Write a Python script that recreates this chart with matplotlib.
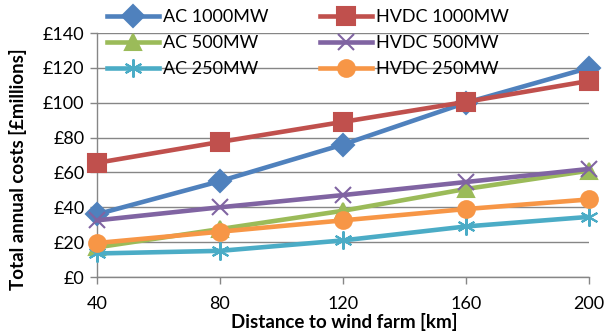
import matplotlib
matplotlib.use("Agg")
import matplotlib.pyplot as plt

plt.rcParams['font.family'] = ['Lato', 'DejaVu Sans']

distance = [40, 80, 120, 160, 200]
ac_1000 = [36, 55, 76, 100, 120]
hvdc_1000 = [65.5, 77.5, 89, 100.5, 112.5]
ac_500 = [17, 27.5, 38, 50.5, 61]
hvdc_500 = [32.5, 40, 47, 54.5, 62]
ac_250 = [13.5, 15, 21, 29, 34.5]
hvdc_250 = [19.5, 26, 32.5, 39, 44.5]
yticks = [0, 20, 40, 60, 80, 100, 120, 140]
ytick_labels = ['£0', '£20', '£40', '£60', '£80', '£100', '£120', '£140']

series = [
    ("AC 1000MW", ac_1000, "#4F81BD", "D", 11),
    ("HVDC 1000MW", hvdc_1000, "#C0504D", "s", 13),
    ("AC 500MW", ac_500, "#9BBB59", "^", 11),
    ("HVDC 500MW", hvdc_500, "#8064A2", "x", 11),
    ("AC 250MW", ac_250, "#4BACC6", (6, 2, 0), 13),
    ("HVDC 250MW", hvdc_250, "#F79646", "o", 12),
]

W, H = 606, 333
fig = plt.figure(figsize=(W / 100, H / 100), dpi=100)
ax = fig.add_axes([97 / W, 1 - 277 / H, (589 - 97) / W, (277 - 33) / H])

handles = []
for name, vals, col, mk, ms in series:
    h, = ax.plot(distance, vals, color=col, lw=3.3, marker=mk, markersize=ms,
                 markeredgecolor=col, markerfacecolor=col, markeredgewidth=1.5,
                 label=name, zorder=3, clip_on=False)
    handles.append(h)

ax.set_xlim(40, 200)
ax.set_ylim(0, 140)
ax.set_xticks(distance)
ax.set_xticklabels([str(d) for d in distance], fontsize=13)
ax.set_yticks(yticks)
ax.set_yticklabels(ytick_labels, fontsize=13)
ax.yaxis.grid(True, color="#868686", lw=1)
ax.set_axisbelow(True)
for s in ["top", "right"]:
    ax.spines[s].set_visible(False)
for s in ["left", "bottom"]:
    ax.spines[s].set_color("#868686")
    ax.spines[s].set_linewidth(1)
ax.tick_params(axis='both', direction='out', length=5, color="#868686", width=1)
ax.tick_params(axis='x', pad=9)
ax.tick_params(axis='y', pad=4)

ax.set_xlabel("Distance to wind farm [km]", fontsize=13.5, fontweight='bold')
ax.set_ylabel("Total annual costs [£millions]", fontsize=13.5, fontweight='bold')
ax.xaxis.set_label_coords((344.5 - 97) / 492, (277 - 322) / 244)
ax.yaxis.set_label_coords((18 - 97) / 492, (277 - 169) / 244)
ax.xaxis.label.set_va('center')
ax.yaxis.label.set_va('center')

common = dict(frameon=False, fontsize=13, handlelength=2.9, labelspacing=0.55,
              handletextpad=0.2, borderpad=0, borderaxespad=0, loc='upper left')
leg1 = fig.legend([handles[i] for i in (0, 2, 4)], [series[i][0] for i in (0, 2, 4)],
                  bbox_to_anchor=(107 / W, 1 - 9 / H), **common)
leg2 = fig.legend([handles[i] for i in (1, 3, 5)], [series[i][0] for i in (1, 3, 5)],
                  bbox_to_anchor=(320 / W, 1 - 9 / H), **common)

fig.savefig("out.png", dpi=100)
